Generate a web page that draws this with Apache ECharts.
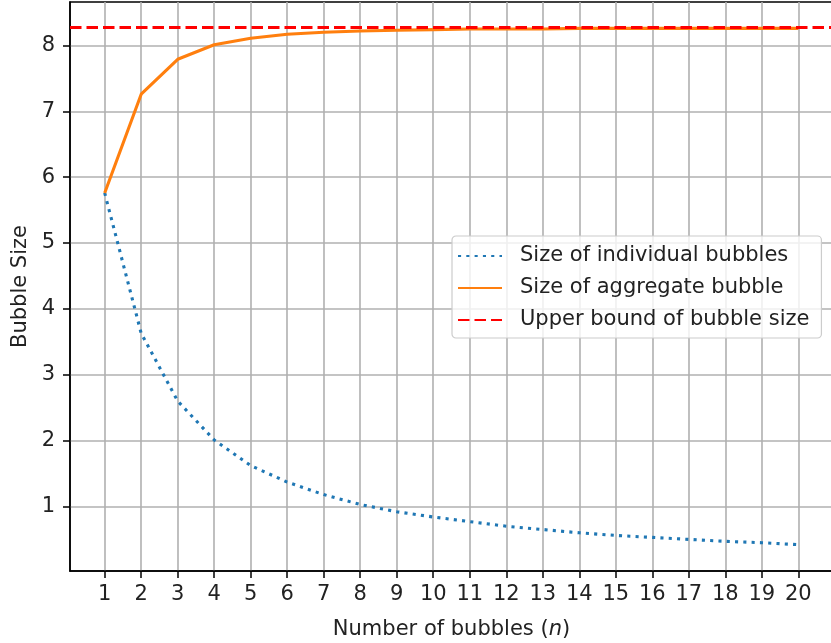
<!DOCTYPE html>
<html>
<head>
<meta charset="utf-8">
<script src="https://cdn.jsdelivr.net/npm/echarts@6/dist/echarts.min.js"></script>
<style>
html,body{margin:0;padding:0;background:#fff;}
#chart{width:831px;height:643px;}
</style>
</head>
<body>
<div id="chart"></div>
<script>
// ---- data ----
var bubbleCounts = [1,2,3,4,5,6,7,8,9,10,11,12,13,14,15,16,17,18,19,20];
var individualSize = [5.76,3.63,2.60,2.01,1.62,1.37,1.18,1.03,0.92,0.84,0.77,0.70,0.65,0.60,0.56,0.53,0.50,0.47,0.45,0.42];
var aggregateSize = [5.76,7.26,7.79,8.01,8.11,8.17,8.20,8.22,8.23,8.24,8.25,8.25,8.25,8.26,8.26,8.26,8.26,8.26,8.26,8.26];
var upperBound = 8.27;
var xTicks = [1,2,3,4,5,6,7,8,9,10,11,12,13,14,15,16,17,18,19,20];
var yTicks = [1,2,3,4,5,6,7,8];
var seriesNames = ['Size of individual bubbles','Size of aggregate bubble','Upper bound of bubble size'];

var FONT = 'DejaVu Sans';
var FS = 21;

function pairs(xs, ys){ return xs.map(function(x,i){ return [x, ys[i]]; }); }

var chart = echarts.init(document.getElementById('chart'), null, {renderer:'canvas'});
chart.setOption({
  animation:false,
  backgroundColor:'#ffffff',
  textStyle:{fontFamily:FONT},
  grid:{left:70, top:2, right:-2, bottom:72, show:true, borderColor:'#000', borderWidth:1.5,
        containLabel:false, outerBoundsMode:'none'},
  legend:{
    orient:'vertical', left:452, top:236,
    data:seriesNames,
    itemWidth:44, itemHeight:14, itemGap:8,
    padding:[8,12,6,5],
    backgroundColor:'rgba(255,255,255,0.8)',
    borderColor:'#cccccc', borderWidth:1.2, borderRadius:4,
    itemStyle:{color:'rgba(0,0,0,0)', borderWidth:0, opacity:0},
    textStyle:{fontFamily:FONT, fontSize:FS, color:'#222', lineHeight:24, padding:[0,0,0,13]},
    selectedMode:false
  },
  xAxis:{
    type:'value', min:0.05, max:20.95,
    name:'Number of bubbles ({i|n})', nameLocation:'middle', nameGap:48,
    nameTextStyle:{fontFamily:FONT, fontSize:FS, color:'#222', rich:{i:{fontFamily:FONT, fontSize:FS, fontStyle:'italic', color:'#222'}}},
    axisLine:{show:true, onZero:false, lineStyle:{color:'#000', width:1.5}},
    axisTick:{show:true, length:7, inside:false, customValues:xTicks, lineStyle:{color:'#000', width:1.5}},
    axisLabel:{show:true, margin:13, customValues:xTicks, fontFamily:FONT, fontSize:FS, color:'#222'},
    splitLine:{show:true, lineStyle:{color:'#b0b0b0', width:1.6}}
  },
  yAxis:{
    type:'value', min:0.02, max:8.66,
    name:'Bubble Size', nameLocation:'middle', nameGap:38, nameRotate:90,
    nameTextStyle:{fontFamily:FONT, fontSize:FS, color:'#222'},
    axisLine:{show:true, onZero:false, lineStyle:{color:'#000', width:1.5}},
    axisTick:{show:true, length:7, inside:false, customValues:yTicks, lineStyle:{color:'#000', width:1.5}},
    axisLabel:{show:true, margin:15, customValues:yTicks, fontFamily:FONT, fontSize:FS, color:'#222'},
    splitLine:{show:true, lineStyle:{color:'#b0b0b0', width:1.6}}
  },
  series:[
    {
      name:seriesNames[0], type:'line', data:pairs(bubbleCounts, individualSize),
      symbol:'none', showSymbol:false, smooth:false, clip:true,
      lineStyle:{color:'#1f77b4', width:3.1, type:[3.1,5.2], cap:'butt'},
      itemStyle:{color:'#1f77b4'}, z:3
    },
    {
      name:seriesNames[1], type:'line', data:pairs(bubbleCounts, aggregateSize),
      symbol:'none', showSymbol:false, clip:true,
      lineStyle:{color:'#ff7f0e', width:3.1, type:'solid'},
      itemStyle:{color:'#ff7f0e'}, z:4
    },
    {
      name:seriesNames[2], type:'line', data:[],
      symbol:'none', showSymbol:false,
      lineStyle:{color:'#ff0000', width:3.1, type:[11.5,5]},
      itemStyle:{color:'#ff0000'}, z:5,
      markLine:{
        silent:true, symbol:['none','none'], label:{show:false},
        lineStyle:{color:'#ff0000', width:3.1, type:[11.5,5]},
        emphasis:{disabled:true},
        data:[{yAxis:upperBound}]
      }
    }
  ]
});
</script>
</body>
</html>
